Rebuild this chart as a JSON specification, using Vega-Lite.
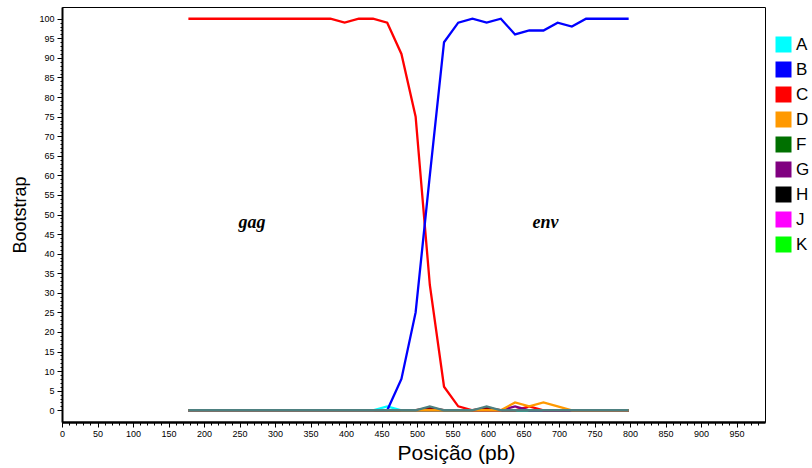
{
  "$schema": "https://vega.github.io/schema/vega-lite/v6.json",
  "autosize": {"type": "none"},
  "width": 703,
  "height": 415,
  "padding": {"left": 62, "top": 7, "right": 47, "bottom": 46},
  "background": "white",
  "view": {"stroke": "black", "strokeWidth": 1},
  "config": {"font": "Liberation Sans"},
  "encoding": {
    "x": {
      "field": "pos",
      "type": "quantitative",
      "scale": {"domain": [0, 990], "nice": false, "zero": false},
      "axis": {
        "title": "Posição (pb)",
        "titleFontSize": 21,
        "titleFontWeight": "normal",
        "titleColor": "black",
        "titleX": 394,
        "titleY": 37,
        "titleAlign": "center",
        "titleBaseline": "alphabetic",
        "values": [0,10,20,30,40,50,60,70,80,90,100,110,120,130,140,150,160,170,180,190,200,210,220,230,240,250,260,270,280,290,300,310,320,330,340,350,360,370,380,390,400,410,420,430,440,450,460,470,480,490,500,510,520,530,540,550,560,570,580,590,600,610,620,630,640,650,660,670,680,690,700,710,720,730,740,750,760,770,780,790,800,810,820,830,840,850,860,870,880,890,900,910,920,930,940,950,960,970,980],
        "labelExpr": "datum.value % 50 === 0 ? datum.label : ''",
        "labelOverlap": false,
        "labelFlush": false,
        "labelFontSize": 9,
        "labelColor": "black",
        "labelPadding": 2,
        "domainColor": "black",
        "domainWidth": 2.5,
        "tickColor": "black",
        "tickWidth": 1,
        "tickSize": {"condition": {"test": "datum.value % 50 === 0", "value": 5}, "value": 3},
        "grid": false
      }
    },
    "y": {
      "field": "value",
      "type": "quantitative",
      "scale": {"domain": [-3, 103], "nice": false, "zero": false},
      "axis": {
        "title": "Bootstrap",
        "titleFontSize": 18,
        "titleFontWeight": "normal",
        "titleColor": "black",
        "titleX": -37,
        "titleBaseline": "alphabetic",
        "values": [0,1,2,3,4,5,6,7,8,9,10,11,12,13,14,15,16,17,18,19,20,21,22,23,24,25,26,27,28,29,30,31,32,33,34,35,36,37,38,39,40,41,42,43,44,45,46,47,48,49,50,51,52,53,54,55,56,57,58,59,60,61,62,63,64,65,66,67,68,69,70,71,72,73,74,75,76,77,78,79,80,81,82,83,84,85,86,87,88,89,90,91,92,93,94,95,96,97,98,99,100],
        "labelExpr": "datum.value % 5 === 0 ? datum.label : ''",
        "labelOverlap": false,
        "labelFlush": false,
        "labelFontSize": 9,
        "labelColor": "black",
        "labelPadding": 3,
        "domainColor": "black",
        "domainWidth": 2,
        "tickColor": "black",
        "tickWidth": 1,
        "tickSize": {"condition": {"test": "datum.value % 5 === 0", "value": 5}, "value": 2},
        "grid": false
      }
    }
  },
  "layer": [
    {
      "data": {
        "values": [
          {"pos": 178, "A": 0, "B": 0, "C": 100, "D": 0, "F": 0, "G": 0, "H": 0, "J": 0, "K": 0, "M": 0, "T": 0},
          {"pos": 198, "A": 0, "B": 0, "C": 100, "D": 0, "F": 0, "G": 0, "H": 0, "J": 0, "K": 0, "M": 0, "T": 0},
          {"pos": 218, "A": 0, "B": 0, "C": 100, "D": 0, "F": 0, "G": 0, "H": 0, "J": 0, "K": 0, "M": 0, "T": 0},
          {"pos": 238, "A": 0, "B": 0, "C": 100, "D": 0, "F": 0, "G": 0, "H": 0, "J": 0, "K": 0, "M": 0, "T": 0},
          {"pos": 258, "A": 0, "B": 0, "C": 100, "D": 0, "F": 0, "G": 0, "H": 0, "J": 0, "K": 0, "M": 0, "T": 0},
          {"pos": 278, "A": 0, "B": 0, "C": 100, "D": 0, "F": 0, "G": 0, "H": 0, "J": 0, "K": 0, "M": 0, "T": 0},
          {"pos": 298, "A": 0, "B": 0, "C": 100, "D": 0, "F": 0, "G": 0, "H": 0, "J": 0, "K": 0, "M": 0, "T": 0},
          {"pos": 318, "A": 0, "B": 0, "C": 100, "D": 0, "F": 0, "G": 0, "H": 0, "J": 0, "K": 0, "M": 0, "T": 0},
          {"pos": 338, "A": 0, "B": 0, "C": 100, "D": 0, "F": 0, "G": 0, "H": 0, "J": 0, "K": 0, "M": 0, "T": 0},
          {"pos": 358, "A": 0, "B": 0, "C": 100, "D": 0, "F": 0, "G": 0, "H": 0, "J": 0, "K": 0, "M": 0, "T": 0},
          {"pos": 378, "A": 0, "B": 0, "C": 100, "D": 0, "F": 0, "G": 0, "H": 0, "J": 0, "K": 0, "M": 0, "T": 0},
          {"pos": 398, "A": 0, "B": 0, "C": 99, "D": 0, "F": 0, "G": 0, "H": 0, "J": 0, "K": 0, "M": 0, "T": 0},
          {"pos": 418, "A": 0, "B": 0, "C": 100, "D": 0, "F": 0, "G": 0, "H": 0, "J": 0, "K": 0, "M": 0, "T": 0},
          {"pos": 438, "A": 0, "B": 0, "C": 100, "D": 0, "F": 0, "G": 0, "H": 0, "J": 0, "K": 0, "M": 0, "T": 0},
          {"pos": 458, "A": 1, "B": 0, "C": 99, "D": 0, "F": 0, "G": 0, "H": 0, "J": 0, "K": 0, "M": 0, "T": 0},
          {"pos": 478, "A": 0, "B": 8, "C": 91, "D": 0, "F": 0, "G": 0, "H": 0, "J": 0, "K": 0, "M": 0, "T": 0},
          {"pos": 498, "A": 0, "B": 25, "C": 75, "D": 0, "F": 0, "G": 0, "H": 0, "J": 0, "K": 0, "M": 0, "T": 0},
          {"pos": 518, "A": 0, "B": 60, "C": 32, "D": 0, "F": 0, "G": 0, "H": 0, "J": 0, "K": 0, "M": 0.6, "T": 1},
          {"pos": 538, "A": 0, "B": 94, "C": 6, "D": 0, "F": 0, "G": 0, "H": 0, "J": 0, "K": 0, "M": 0, "T": 0},
          {"pos": 558, "A": 0, "B": 99, "C": 1, "D": 0, "F": 0, "G": 0, "H": 0, "J": 0, "K": 0, "M": 0, "T": 0},
          {"pos": 578, "A": 0, "B": 100, "C": 0, "D": 0, "F": 0, "G": 0, "H": 0, "J": 0, "K": 0, "M": 0, "T": 0},
          {"pos": 598, "A": 0, "B": 99, "C": 0, "D": 0, "F": 0, "G": 0, "H": 0, "J": 0, "K": 0, "M": 0.6, "T": 1},
          {"pos": 618, "A": 0, "B": 100, "C": 0, "D": 0, "F": 0, "G": 0, "H": 0, "J": 0, "K": 0, "M": 0, "T": 0},
          {"pos": 638, "A": 0, "B": 96, "C": 0, "D": 2, "F": 0, "G": 1, "H": 0, "J": 0, "K": 0, "M": 0, "T": 0},
          {"pos": 658, "A": 0, "B": 97, "C": 1, "D": 1, "F": 0, "G": 0, "H": 0, "J": 0, "K": 0, "M": 0, "T": 0},
          {"pos": 678, "A": 0, "B": 97, "C": 0, "D": 2, "F": 0, "G": 0, "H": 0, "J": 0, "K": 0, "M": 0, "T": 0},
          {"pos": 698, "A": 0, "B": 99, "C": 0, "D": 1, "F": 0, "G": 0, "H": 0, "J": 0, "K": 0, "M": 0, "T": 0},
          {"pos": 718, "A": 0, "B": 98, "C": 0, "D": 0, "F": 0, "G": 0, "H": 0, "J": 0, "K": 0, "M": 0, "T": 0},
          {"pos": 738, "A": 0, "B": 100, "C": 0, "D": 0, "F": 0, "G": 0, "H": 0, "J": 0, "K": 0, "M": 0, "T": 0},
          {"pos": 758, "A": 0, "B": 100, "C": 0, "D": 0, "F": 0, "G": 0, "H": 0, "J": 0, "K": 0, "M": 0, "T": 0},
          {"pos": 778, "A": 0, "B": 100, "C": 0, "D": 0, "F": 0, "G": 0, "H": 0, "J": 0, "K": 0, "M": 0, "T": 0},
          {"pos": 798, "A": 0, "B": 100, "C": 0, "D": 0, "F": 0, "G": 0, "H": 0, "J": 0, "K": 0, "M": 0, "T": 0}
        ]
      },
      "transform": [
        {"fold": ["F", "H", "J", "K", "M", "A", "C", "B", "G", "D", "T"], "as": ["series", "value"]}
      ],
      "mark": {"type": "line", "strokeWidth": 2.3, "clip": true},
      "encoding": {
        "color": {
          "field": "series",
          "type": "nominal",
          "scale": {
            "domain": ["A", "B", "C", "D", "F", "G", "H", "J", "K", "M", "T"],
            "range": ["#00ffff", "#0000ff", "#ff0000", "#ff9900", "#007000", "#800080", "#000000", "#ff00ff", "#00ff00", "#8b0000", "#4d8080"]
          },
          "legend": {
            "values": ["A", "B", "C", "D", "F", "G", "H", "J", "K"],
            "title": null,
            "orient": "none",
            "legendX": 713,
            "legendY": 29,
            "padding": 0,
            "symbolType": "square",
            "symbolSize": 256,
            "symbolStrokeWidth": 0,
            "labelFontSize": 17,
            "labelColor": "black",
            "labelOffset": 4,
            "rowPadding": 7,
            "encode": {
              "symbols": {"update": {"fill": {"scale": "color", "field": "value"}, "fillOpacity": {"value": 1}, "strokeWidth": {"value": 0}}}
            }
          }
        }
      }
    },
    {
      "data": {
        "values": [
          {"label": "gag", "pos": 267.6, "value": 46.6},
          {"label": "env", "pos": 681, "value": 46.6}
        ]
      },
      "mark": {"type": "text", "font": "Liberation Serif", "fontSize": 18, "fontStyle": "italic", "fontWeight": "bold", "baseline": "alphabetic", "align": "center", "color": "black"},
      "encoding": {
        "text": {"field": "label", "type": "nominal"}
      }
    }
  ]
}
